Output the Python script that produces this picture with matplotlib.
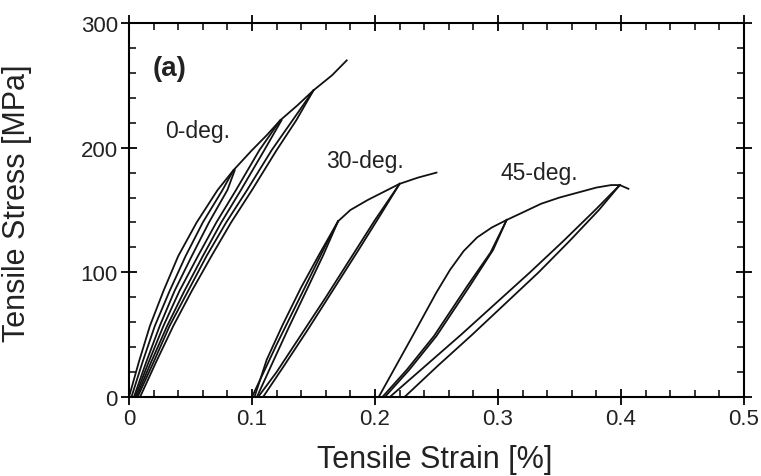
import numpy as np
import matplotlib
matplotlib.use("Agg")
import matplotlib.pyplot as plt
from matplotlib.ticker import MultipleLocator

# 0-deg. specimen: envelope plus three unload / reload loops
deg0_env_x = [0.000, 0.008, 0.017, 0.028, 0.040, 0.055, 0.072, 0.085, 0.100, 0.112, 0.123, 0.137, 0.150, 0.165, 0.177]
deg0_env_y = [0, 28, 57, 85, 113, 140, 166, 182, 198, 210, 222, 234, 246, 258, 270]
deg0_u1_x = [0.002, 0.011, 0.021, 0.033, 0.046, 0.060, 0.076, 0.085]
deg0_u1_y = [0, 28, 57, 85, 113, 140, 166, 182]
deg0_r1_x = [0.004, 0.014, 0.025, 0.037, 0.051, 0.065, 0.080, 0.086]
deg0_r1_y = [0, 28, 57, 85, 113, 140, 166, 182]
deg0_u2_x = [0.005, 0.016, 0.028, 0.041, 0.056, 0.071, 0.087, 0.106, 0.123]
deg0_u2_y = [0, 28, 57, 85, 113, 140, 166, 198, 222]
deg0_r2_x = [0.006, 0.018, 0.031, 0.045, 0.060, 0.075, 0.091, 0.110, 0.124]
deg0_r2_y = [0, 28, 57, 85, 113, 140, 166, 198, 222]
deg0_u3_x = [0.007, 0.020, 0.033, 0.048, 0.063, 0.079, 0.096, 0.116, 0.133, 0.150]
deg0_u3_y = [0, 28, 57, 85, 113, 140, 166, 198, 222, 246]
deg0_r3_x = [0.009, 0.022, 0.036, 0.051, 0.067, 0.083, 0.100, 0.120, 0.136, 0.150]
deg0_r3_y = [0, 28, 57, 85, 113, 140, 166, 198, 222, 246]

# 30-deg. specimen
deg30_env_x = [0.100, 0.110, 0.120, 0.130, 0.140, 0.150, 0.160, 0.170, 0.180, 0.194, 0.208, 0.220, 0.235, 0.250]
deg30_env_y = [0, 21, 42, 62, 82, 102, 122, 141, 150, 158, 165, 171, 176, 180]
deg30_u1_x = [0.170, 0.155, 0.140, 0.125, 0.112, 0.102]
deg30_u1_y = [141, 115, 88, 58, 30, 0]
deg30_r1_x = [0.104, 0.116, 0.130, 0.145, 0.158, 0.170]
deg30_r1_y = [0, 26, 56, 87, 114, 141]
deg30_u2_x = [0.220, 0.200, 0.180, 0.160, 0.140, 0.120, 0.105]
deg30_u2_y = [171, 142, 111, 80, 50, 20, 0]
deg30_r2_x = [0.109, 0.126, 0.146, 0.166, 0.186, 0.205, 0.220]
deg30_r2_y = [0, 25, 55, 86, 117, 147, 171]

# 45-deg. specimen
deg45_env_x = [0.203, 0.212, 0.221, 0.230, 0.240, 0.250, 0.261, 0.272, 0.283, 0.295, 0.307,
               0.320, 0.335, 0.350, 0.365, 0.380, 0.392, 0.399, 0.406]
deg45_env_y = [0, 16, 32, 48, 66, 84, 102, 117, 128, 136, 142,
               148, 155, 160, 164, 168, 170, 170, 167]
deg45_u1_x = [0.307, 0.294, 0.275, 0.248, 0.226, 0.206]
deg45_u1_y = [142, 116, 89, 49, 22, 0]
deg45_r1_x = [0.208, 0.228, 0.250, 0.277, 0.296, 0.307]
deg45_r1_y = [0, 22, 49, 89, 118, 142]
deg45_u2_x = [0.212, 0.241, 0.270, 0.298, 0.326, 0.353, 0.379, 0.399]
deg45_u2_y = [0, 25, 50, 75, 100, 125, 150, 170]
deg45_r2_x = [0.224, 0.251, 0.279, 0.306, 0.333, 0.358, 0.382, 0.399]
deg45_r2_y = [0, 25, 50, 75, 100, 125, 150, 170]

labels = ["0-deg.", "30-deg.", "45-deg."]
label_x = [0.029, 0.160, 0.302]
label_y = [214, 190, 180]

x_ticks = [0, 0.1, 0.2, 0.3, 0.4, 0.5]
x_tick_labels = ["0", "0.1", "0.2", "0.3", "0.4", "0.5"]
y_ticks = [0, 100, 200, 300]


def main():
    fig = plt.figure(figsize=(7.61, 4.77), dpi=100)
    ax = fig.add_axes([0.1695, 0.1656, 0.8082, 0.7841])

    curves = [
        (deg0_env_x, deg0_env_y), (deg0_u1_x, deg0_u1_y), (deg0_r1_x, deg0_r1_y),
        (deg0_u2_x, deg0_u2_y), (deg0_r2_x, deg0_r2_y), (deg0_u3_x, deg0_u3_y),
        (deg0_r3_x, deg0_r3_y),
        (deg30_env_x, deg30_env_y), (deg30_u1_x, deg30_u1_y), (deg30_r1_x, deg30_r1_y),
        (deg30_u2_x, deg30_u2_y), (deg30_r2_x, deg30_r2_y),
        (deg45_env_x, deg45_env_y), (deg45_u1_x, deg45_u1_y), (deg45_r1_x, deg45_r1_y),
        (deg45_u2_x, deg45_u2_y), (deg45_r2_x, deg45_r2_y),
    ]
    for cx, cy in curves:
        ax.plot(cx, cy, color="#111111", lw=1.3, solid_joinstyle="round")

    for txt, tx, ty in zip(labels, label_x, label_y):
        ax.text(tx, ty, txt, fontsize=16.5, family=["Liberation Sans"],
                va="center", ha="left", color="#222222")
    ax.text(0.019, 264, "(a)", fontsize=20, fontweight="bold",
            family=["Liberation Sans"], va="center", ha="left", color="#222222")

    ax.set_xlim(0, 0.5)
    ax.set_ylim(0, 300)
    ax.set_xticks(x_ticks)
    ax.set_xticklabels(x_tick_labels)
    ax.set_yticks(y_ticks)
    ax.xaxis.set_minor_locator(MultipleLocator(0.02))
    ax.yaxis.set_minor_locator(MultipleLocator(20))
    ax.tick_params(which="major", direction="inout", length=12, width=1.3,
                   top=True, right=True, labelsize=16, pad=2)
    ax.tick_params(which="minor", direction="in", length=5, width=1.1,
                   top=True, right=True)
    for lab in ax.get_xticklabels() + ax.get_yticklabels():
        lab.set_family(["Liberation Sans"])
        lab.set_color("#222222")
    for sp in ax.spines.values():
        sp.set_linewidth(1.5)

    ax.set_xlabel("Tensile Strain [%]", fontsize=22, family=["Liberation Sans"],
                  color="#222222")
    ax.set_ylabel("Tensile Stress [MPa]", fontsize=22, family=["Liberation Sans"],
                  color="#222222")
    ax.xaxis.set_label_coords(0.4976, -0.125)
    ax.yaxis.set_label_coords(-0.158, 0.52)

    fig.savefig("out.png", dpi=100)


if __name__ == "__main__":
    main()
